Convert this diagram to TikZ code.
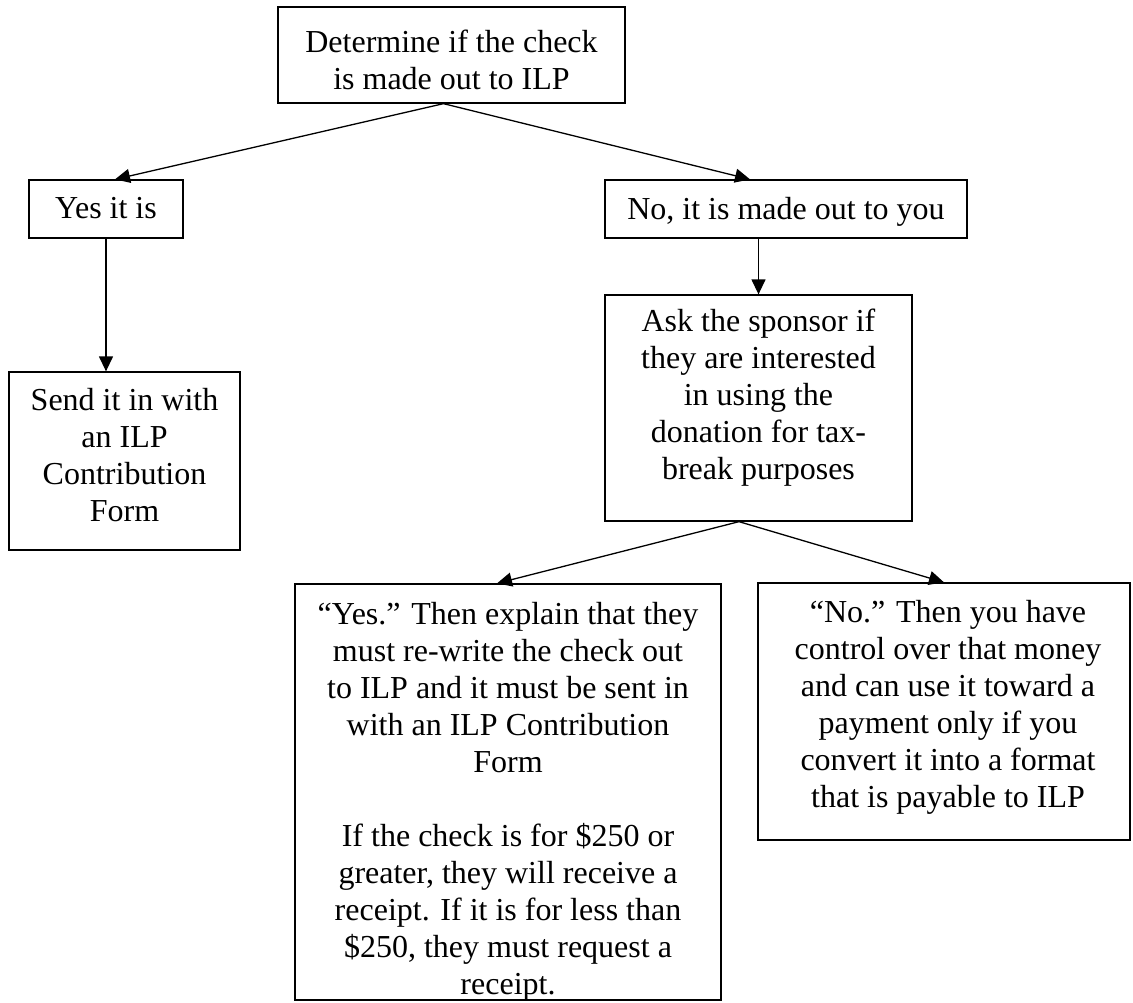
\documentclass[tikz,border=0pt]{standalone}
\usepackage{fontspec}
\setmainfont{Liberation Serif}
\usetikzlibrary{arrows.meta}
\begin{document}
\begin{tikzpicture}[x=1pt,y=-1pt,
  box/.style={draw, line width=1.3pt, rectangle, inner sep=0pt},
  txt/.style={align=center, inner sep=0pt, anchor=north, font=\fontsize{32}{37}\selectfont},
  arr/.style={line width=1.3pt, -{Triangle[length=15pt,width=14pt]}}]
\useasboundingbox (0,0) rectangle (1133,1002);
% boxes
\node[box, minimum width=347pt, minimum height=96pt] (top) at (451.5,55) {};
\node[box, minimum width=154pt, minimum height=58pt] (yes) at (106,209) {};
\node[box, minimum width=362pt, minimum height=58pt] (no) at (786,209) {};
\node[box, minimum width=307pt, minimum height=226pt] (ask) at (758.5,408) {};
\node[box, minimum width=231pt, minimum height=178pt] (send) at (124.5,461) {};
\node[box, minimum width=426pt, minimum height=416pt] (yesq) at (508,792) {};
\node[box, minimum width=372pt, minimum height=257pt] (noq) at (944,711.5) {};
% texts
\node[txt] (ttop) at (451.5,29.4) {Determine if the check\\is made out to ILP};
\node[txt] (tyes) at (106,197.4) {Yes it is};
\node[txt] (tno) at (786,197.4) {No, it is made out to you};
\node[txt] (task) at (758.5,308.4) {Ask the sponsor if\\they are interested\\in using the\\donation for tax-\\break purposes};
\node[txt] (tsend) at (124.5,388.4) {Send it in with\\an ILP\\Contribution\\Form};
\node[txt] (tyesq) at (508,602.4) {“Yes.” Then explain that they\\must re-write the check out\\to ILP and it must be sent in\\with an ILP Contribution\\Form\\[37pt]If the check is for \$250 or\\greater, they will receive a\\receipt. If it is for less than\\\$250, they must request a\\receipt.};
\node[txt] (tnoq) at (948,600.4) {“No.” Then you have\\control over that money\\and can use it toward a\\payment only if you\\convert it into a format\\that is payable to ILP};
% connectors
\draw[arr] ([xshift=-8pt]top.south) -- ([xshift=9pt]yes.north);
\draw[arr] ([xshift=-8pt]top.south) -- ([xshift=-36pt]no.north);
\draw[arr] (yes.south) -- (yes.south |- send.north);
\draw[arr] (ask.north |- no.south) -- (ask.north);
\draw[arr] ([xshift=-19.5pt]ask.south) -- ([xshift=-11pt]yesq.north);
\draw[arr] ([xshift=-19.5pt]ask.south) -- (noq.north);
\end{tikzpicture}
\end{document}
